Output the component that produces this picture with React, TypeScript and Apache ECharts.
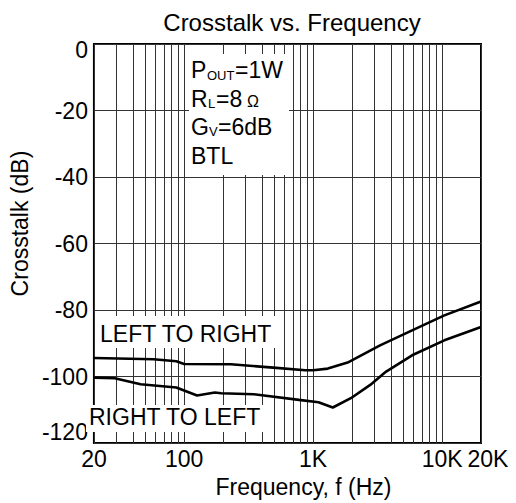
import React, { useEffect, useRef } from "react";
import * as echarts from "echarts";

const FONT = "'Liberation Sans', Arial, Helvetica, sans-serif";

const xGridValues = [
  20, 30, 40, 50, 60, 70, 80, 90, 100,
  200, 300, 400, 500, 600, 700, 800, 900, 1000,
  2000, 3000, 4000, 5000, 6000, 7000, 8000, 9000, 10000, 20000,
];
const xLabelValues = [20, 100, 1000, 10000];
const xLabelTexts = ["20", "100", "1K", "10K"];
const xEndLabelValues = [20000];
const xEndLabelTexts = ["20K"];

const leftToRightFreq = [20, 58, 87, 100, 230, 490, 870, 1000, 1300, 1850, 3300, 5850, 10400, 20000];
const leftToRightDb = [-94.4, -94.8, -95.4, -96.2, -96.3, -97.3, -98.1, -98.1, -97.6, -95.8, -90.6, -86.1, -81.6, -77.4];

const rightToLeftFreq = [20, 29, 46, 87, 126, 173, 194, 346, 776, 1100, 1420, 1960, 2770, 3680, 5850, 10400, 20000];
const rightToLeftDb = [-100.3, -100.5, -102.3, -103.3, -105.7, -104.8, -105, -105.3, -107, -107.7, -109.3, -106.5, -102.5, -98.5, -93.6, -89.1, -85.1];

const pairs = (xs: number[], ys: number[]) => xs.map((x, i) => [x, ys[i]]);

function txt(text: string, x: number, y: number, size: number, z = 60) {
  return {
    type: "text",
    z,
    style: {
      text,
      x,
      y,
      fill: "#000",
      font: `${size}px ${FONT}`,
      align: "left",
      verticalAlign: "middle",
    },
  };
}

const labelFont = { fontFamily: FONT, fontSize: 23, color: "#000" };

const fmt = (vals: number[], texts: string[]) => (v: number) => {
  const i = vals.findIndex((x) => Math.abs(x - v) / x < 1e-6);
  return i >= 0 ? texts[i] : "";
};

export default function App() {
  const ref = useRef<HTMLDivElement>(null);
  useEffect(() => {
    document.body.style.margin = "0";
    const chart = echarts.init(ref.current!, null, { renderer: "svg" });
    chart.setOption({
      animation: false,
      backgroundColor: "#fff",
      title: {
        text: "Crosstalk vs. Frequency",
        left: 287,
        top: 5,
        textAlign: "center",
        textStyle: { fontFamily: FONT, fontSize: 24, fontWeight: "normal", color: "#000" },
      },
      grid: {
        left: 82,
        top: 44,
        width: 399,
        height: 401,
        show: true,
        borderColor: "#000",
        borderWidth: 2,
        backgroundColor: "transparent",
        containLabel: false,
      },
      xAxis: [
        {
          type: "log",
          logBase: 10,
          min: 20,
          max: 20000,
          position: "bottom",
          name: "Frequency, f (Hz)",
          nameLocation: "middle",
          nameGap: 25,
          nameTextStyle: { ...labelFont, padding: [0, 0, 0, 32] },
          axisLine: { show: false },
          axisTick: { show: false, customValues: xGridValues },
          splitLine: { show: true, lineStyle: { color: "#333", width: 1 } },
          axisLabel: {
            customValues: xLabelValues,
            interval: 0,
            showMinLabel: true,
            hideOverlap: false,
            margin: 4,
            ...labelFont,
            formatter: fmt(xLabelValues, xLabelTexts),
          },
        },
        {
          type: "log",
          logBase: 10,
          min: 20,
          max: 20000,
          position: "bottom",
          offset: 0,
          axisLine: { show: false },
          axisTick: { show: false, customValues: xEndLabelValues },
          splitLine: { show: false },
          axisLabel: {
            customValues: xEndLabelValues,
            interval: 0,
            showMaxLabel: true,
            hideOverlap: false,
            margin: 4,
            ...labelFont,
            padding: [0, 0, 0, 14],
            formatter: fmt(xEndLabelValues, xEndLabelTexts),
          },
        },
      ],
      yAxis: {
        type: "value",
        min: -120,
        max: 0,
        interval: 20,
        name: "Crosstalk (dB)",
        nameLocation: "middle",
        nameGap: 43,
        nameTextStyle: { ...labelFont, padding: [0, 0, 0, 40] },
        axisLine: { show: false },
        axisTick: { show: false },
        splitLine: { show: true, lineStyle: { color: "#333", width: 1 } },
        axisLabel: {
          margin: 6,
          ...labelFont,
          formatter: (v: number) => (v === -120 ? `{up|${v}}` : v === 0 ? `{dn|${v}}` : `${v}`),
          rich: {
            up: { ...labelFont, padding: [0, 0, 22, 0] },
            dn: { ...labelFont, padding: [12, 0, 0, 0] },
          },
        },
      },
      graphic: [
        { type: "rect", z: 50, shape: { x: 189, y: 54, width: 100, height: 121 }, style: { fill: "#fff" } },
        txt("P", 191, 70, 23),
        txt("OUT", 207, 75.5, 13),
        txt("=1W", 235, 70, 23),
        txt("R", 191, 98.5, 23),
        txt("L", 208, 103, 13),
        txt("=8", 216, 98.5, 23),
        txt("Ω", 247, 101, 16),
        txt("G", 191, 126.5, 23),
        txt("V", 209, 131, 13),
        txt("=6dB", 218, 126.5, 23),
        txt("BTL", 191, 155.5, 23),
        { type: "rect", z: 50, shape: { x: 97, y: 316, width: 185, height: 32 }, style: { fill: "#fff" } },
        txt("LEFT TO RIGHT", 100, 333.5, 23),
        { type: "rect", z: 50, shape: { x: 86, y: 405, width: 184, height: 27 }, style: { fill: "#fff" } },
        txt("RIGHT TO LEFT", 89, 416.7, 23),
      ],
      series: [
        {
          name: "LEFT TO RIGHT",
          type: "line",
          xAxisIndex: 0,
          z: 100,
          showSymbol: false,
          data: pairs(leftToRightFreq, leftToRightDb),
          lineStyle: { color: "#000", width: 2.6 },
          itemStyle: { color: "#000" },
        },
        {
          name: "RIGHT TO LEFT",
          type: "line",
          xAxisIndex: 0,
          z: 100,
          showSymbol: false,
          data: pairs(rightToLeftFreq, rightToLeftDb),
          lineStyle: { color: "#000", width: 2.6 },
          itemStyle: { color: "#000" },
        },
      ],
    });
    return () => chart.dispose();
  }, []);
  return <div ref={ref} style={{ width: 516, height: 503 }} />;
}
